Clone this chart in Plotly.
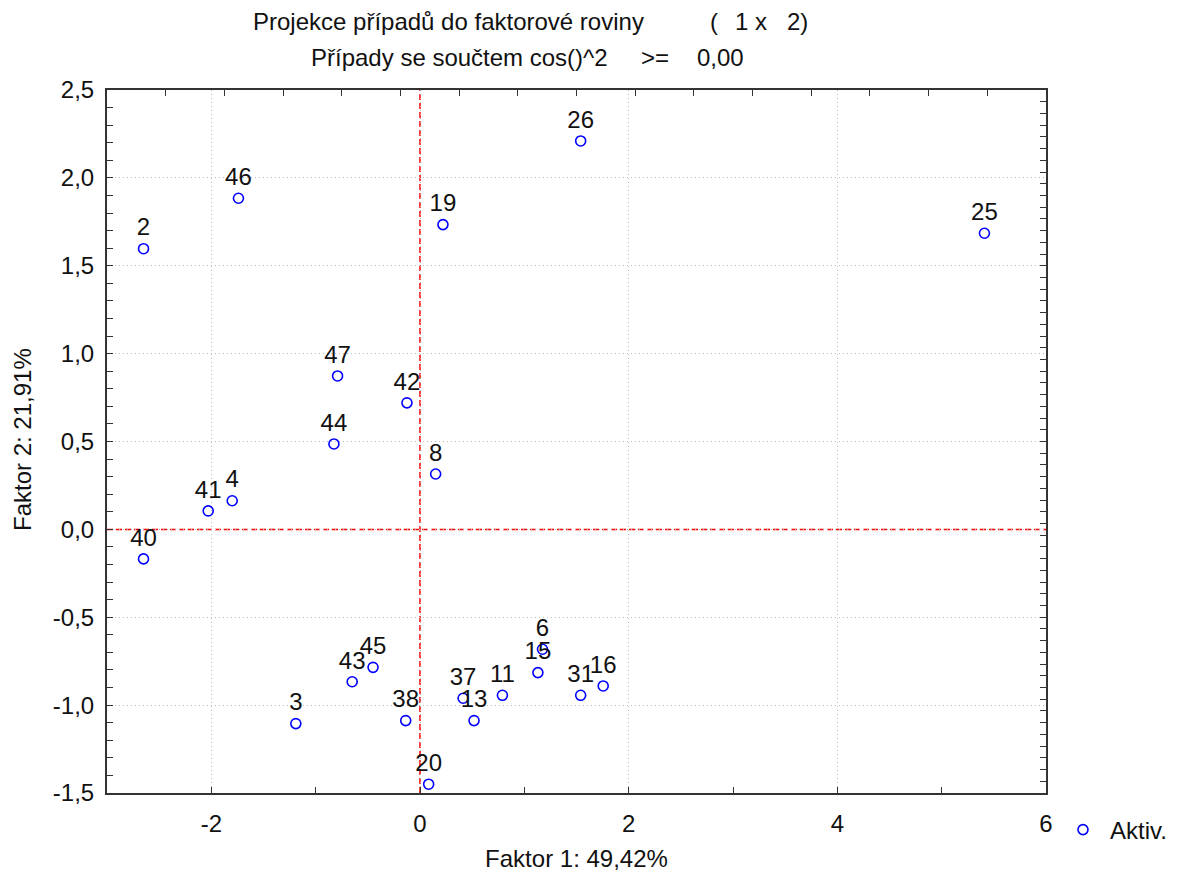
import plotly.graph_objects as go

# Case labels and their coordinates in the factor plane (Faktor 1 x Faktor 2)
case_ids = ["2", "46", "19", "26", "25", "47", "42", "44", "8", "41", "4", "40",
            "3", "43", "45", "38", "20", "37", "13", "11", "6", "15", "31", "16"]
faktor1 = [-2.65, -1.74, 0.22, 1.54, 5.41, -0.79, -0.125, -0.825, 0.15, -2.03, -1.80, -2.65,
           -1.19, -0.65, -0.45, -0.137, 0.083, 0.413, 0.518, 0.79, 1.174, 1.13, 1.54, 1.756]
faktor2 = [1.597, 1.884, 1.734, 2.21, 1.685, 0.873, 0.72, 0.486, 0.315, 0.105, 0.163, -0.168,
           -1.105, -0.867, -0.785, -1.088, -1.45, -0.961, -1.088, -0.944, -0.682, -0.815, -0.944, -0.891]

x_tickvals = [-2, 0, 2, 4, 6]
x_ticktext = ["-2", "0", "2", "4", "6"]
y_tickvals = [2.5, 2.0, 1.5, 1.0, 0.5, 0.0, -0.5, -1.0, -1.5]
y_ticktext = ["2,5", "2,0", "1,5", "1,0", "0,5", "0,0", "-0,5", "-1,0", "-1,5"]

FONT = "Liberation Sans, Arial, sans-serif"
FS = 24
FRAME = "#333333"
GRID = "#bdbdbd"

W, H = 1177, 875
ML, MR, MT, MB = 107, 131, 90, 82
PW = W - ML - MR
PH = H - MT - MB


def px_x(px):
    return (px - ML) / PW


def px_y(py):
    return (H - MB - py) / PH


fig = go.Figure()

fig.add_trace(go.Scatter(
    x=faktor1, y=faktor2, mode="markers+text",
    text=case_ids, textposition="top center",
    textfont=dict(family=FONT, size=FS, color="#111111"),
    marker=dict(symbol="circle-open", size=10, color="#0000ff", line=dict(width=1.6, color="#0000ff")),
    name="Aktiv.", showlegend=True, cliponaxis=False,
))

# secondary frame axes carrying the finer tick marks on the top and right edges
fig.add_trace(go.Scatter(x=[], y=[], xaxis="x2", yaxis="y2", showlegend=False, hoverinfo="skip"))

fig.update_layout(
    width=W, height=H,
    margin=dict(l=ML, r=MR, t=MT, b=MB, autoexpand=False),
    paper_bgcolor="white", plot_bgcolor="white",
    font=dict(family=FONT, size=FS, color="#111111"),
    xaxis=dict(
        range=[-3, 6], tickvals=x_tickvals, ticktext=x_ticktext,
        ticks="inside", ticklen=6, tickwidth=1.2, tickcolor=FRAME,
        showgrid=True, gridcolor=GRID, griddash="1px,3px", gridwidth=1,
        zeroline=False, showline=True, linecolor=FRAME, linewidth=2, mirror=True,
        minor=dict(dtick=1, tick0=0, ticks="inside", ticklen=6, tickcolor=FRAME, tickwidth=1.2, showgrid=False),
        tickfont=dict(family=FONT, size=FS), ticklabelstandoff=8,
        title=dict(text="Faktor 1: 49,42%", font=dict(family=FONT, size=FS), standoff=14),
        automargin=False,
    ),
    yaxis=dict(
        range=[-1.5, 2.5], tickvals=y_tickvals, ticktext=y_ticktext,
        ticks="inside", ticklen=6, tickwidth=1.2, tickcolor=FRAME,
        showgrid=True, gridcolor=GRID, griddash="1px,3px", gridwidth=1,
        zeroline=False, showline=True, linecolor=FRAME, linewidth=2, mirror=True,
        minor=dict(dtick=0.1, tick0=0, ticks="inside", ticklen=6, tickcolor=FRAME, tickwidth=1.2, showgrid=False),
        tickfont=dict(family=FONT, size=FS), ticklabelstandoff=6,
        automargin=False,
    ),
    xaxis2=dict(
        overlaying="x", side="top", range=[0, 16], dtick=1, ticks="inside", ticklen=6,
        tickwidth=1.2, tickcolor=FRAME, showticklabels=False, showgrid=False, zeroline=False,
    ),
    yaxis2=dict(
        overlaying="y", side="right", range=[0, 60], dtick=1, ticks="inside", ticklen=6,
        tickwidth=1.2, tickcolor=FRAME, showticklabels=False, showgrid=False, zeroline=False,
    ),
    legend=dict(
        x=px_x(1056), y=px_y(830), xanchor="left", yanchor="middle",
        bgcolor="rgba(0,0,0,0)", font=dict(family=FONT, size=FS),
        itemwidth=44,
    ),
)

# vertical axis title
fig.add_annotation(text="Faktor 2: 21,91%", xref="paper", yref="paper",
                   x=px_x(22), y=px_y(440), xanchor="center", yanchor="middle",
                   textangle=-90, showarrow=False,
                   font=dict(family=FONT, size=FS, color="#111111"))

# dashed red origin lines
fig.add_shape(type="line", xref="x", yref="paper", x0=0, x1=0, y0=0, y1=1,
              line=dict(color="#ff0000", width=1.5, dash="6px,3px"), layer="below")
fig.add_shape(type="line", xref="paper", yref="y", x0=0, x1=1, y0=0, y1=0,
              line=dict(color="#ff0000", width=1.5, dash="6px,3px"), layer="below")

# heading in two lines
heading = [
    ("Projekce případů do faktorové roviny", 251, 21),
    ("(", 708, 21),
    ("1 x", 733, 21),
    ("2)", 785, 21),
    ("Případy se součtem cos()^2", 309, 57),
    (">=", 639, 57),
    ("0,00", 695, 57),
]
for txt, xp, yp in heading:
    fig.add_annotation(text=txt, xref="paper", yref="paper", x=px_x(xp), y=px_y(yp),
                       xanchor="left", yanchor="middle", showarrow=False,
                       font=dict(family=FONT, size=FS, color="#111111"))

fig.write_html("out.html")
